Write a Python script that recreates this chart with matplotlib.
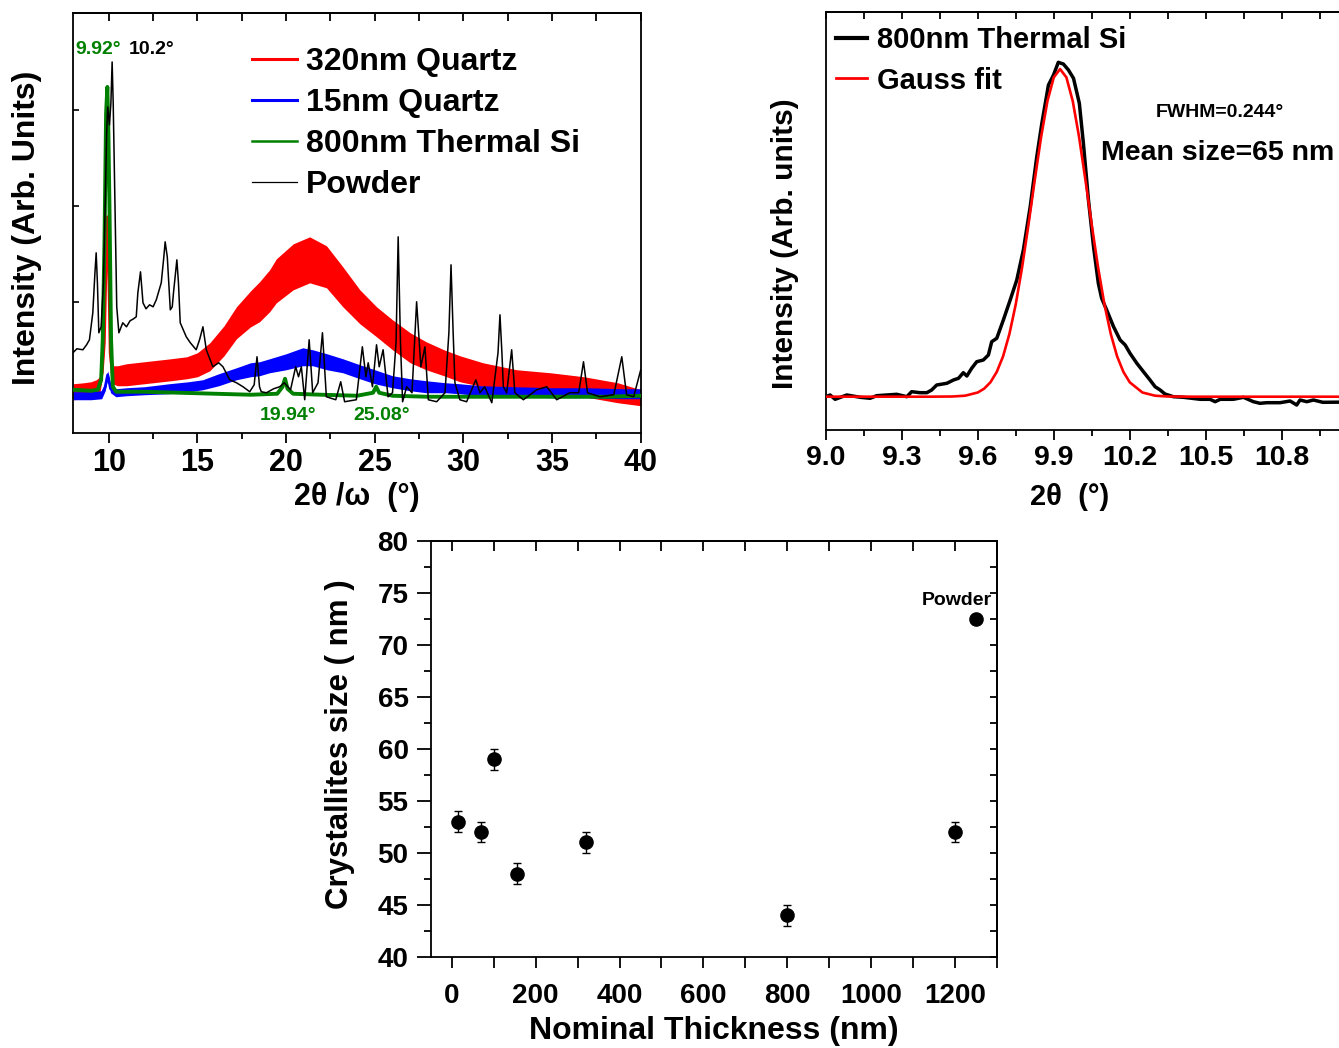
import matplotlib
matplotlib.use('Agg')
import matplotlib.pyplot as plt
from matplotlib.lines import Line2D
from matplotlib.ticker import MultipleLocator, NullFormatter, FormatStrFormatter

plt.rcParams['font.family'] = ['Liberation Sans', 'DejaVu Sans']
plt.rcParams['font.weight'] = 'bold'
plt.rcParams['axes.labelweight'] = 'bold'
plt.rcParams['axes.linewidth'] = 1.3

# ---------------- Panel 1: XRD patterns ----------------
red_2theta = [8.0, 8.6, 9.0, 9.3, 9.5, 9.63, 9.75, 9.85, 9.92, 10.0, 10.08, 10.2, 10.5, 11.0, 12.0,
              12.5, 13.5, 14.4, 15.0, 15.7, 16.5, 17.2, 18.0, 18.5, 19.07, 19.45, 20.4, 21.33,
              22.28, 23.2, 24.16, 25.1, 26.0, 27.0, 27.9, 28.9, 29.8, 31.1, 33.0, 34.9, 36.8,
              38.7, 40.0]
red_mid = [41, 42, 43, 45, 48, 60, 90, 170, 216, 160, 80, 58, 57, 58, 60,
           61, 63, 65, 68, 76, 92, 110, 124, 131, 142, 152, 166, 173,
           166, 146, 126, 111, 98, 85, 77, 70, 64, 58, 53, 50, 46,
           40, 35]
red_noise = [8, 8, 8, 8, 8, 6, 5, 4, 3, 4, 6, 9, 10, 11, 11,
             11, 11, 11, 12, 14, 15, 16, 18, 20, 21, 22, 23, 23,
             21, 20, 17, 15, 15, 15, 14, 13, 13, 12, 10, 10, 10,
             10, 8]

blue_2theta = [8.0, 9.0, 9.6, 9.8, 9.94, 10.1, 10.4, 11.0, 12.0, 13.4, 14.5, 15.3, 16.2, 17.2,
               18.0, 18.5, 19.07, 20.0, 20.94, 21.5, 22.3, 23.2, 24.16, 25.0, 26.0, 27.0,
               27.9, 29.0, 29.8, 31.0, 33.0, 35.0, 37.0, 39.0, 40.0]
blue_mid = [37, 37, 38, 46, 58, 44, 40, 41, 42, 44, 46, 48, 53, 59,
            63, 64, 67, 71, 76, 75, 71, 67, 61, 56, 51, 48,
            46, 45, 44, 42, 41, 40, 40, 39, 39]
blue_noise = [4, 4, 4, 4, 4, 4, 4, 4, 4, 5, 5, 5, 6, 6,
              7, 7, 7, 8, 9, 8, 8, 7, 7, 7, 6, 6,
              6, 5, 5, 5, 5, 5, 5, 5, 5]

green_2theta = [8.0, 9.0, 9.38, 9.57, 9.66, 9.76, 9.85, 9.92, 9.98, 10.04, 10.13, 10.23, 10.42,
                12.0, 14.0, 16.0, 18.0, 19.5, 19.8, 19.94, 20.08, 20.4, 22.0, 24.0, 24.9,
                25.08, 25.25, 26.0, 28.0, 30.0, 33.0, 36.0, 38.0, 40.0]
green_int = [43, 42, 43, 53, 93, 193, 320, 346, 300, 226, 93, 46, 41,
             41, 40, 39, 38, 39, 46, 54, 44, 39, 38, 37, 40,
             46, 40, 37, 36, 36, 36, 36, 36, 37]

powder_2theta = [7.98, 8.2, 8.54, 8.75, 8.91, 9.10, 9.22, 9.29, 9.36, 9.44, 9.57, 9.70, 9.80, 9.88,
                 9.94, 10.04, 10.12, 10.19, 10.25, 10.32, 10.45, 10.57, 10.79, 11.0, 11.2, 11.4,
                 11.55, 11.64, 11.79, 11.93, 12.1, 12.3, 12.5, 12.68, 12.96, 13.10, 13.18, 13.30,
                 13.47, 13.58, 13.65, 13.84, 13.93, 14.03, 14.37, 14.6, 14.93, 15.12, 15.31,
                 15.5, 15.87, 16.2, 16.44, 16.82, 17.2, 17.57, 17.95, 18.2, 18.36, 18.5, 18.6,
                 18.89, 19.3, 19.64, 19.9, 20.1, 20.25, 20.54, 20.7, 20.86, 21.05, 21.3, 21.5,
                 21.8, 22.05, 22.27, 22.8, 23.08, 23.3, 23.96, 24.3, 24.5, 24.63, 24.87, 25.1,
                 25.25, 25.47, 25.75, 26.0, 26.2, 26.32, 26.45, 26.57, 26.8, 27.1, 27.36, 27.6,
                 27.83, 28.02, 28.49, 28.96, 29.18, 29.3, 29.42, 29.52, 29.8, 30.18, 30.7, 30.93,
                 31.2, 31.6, 31.95, 32.06, 32.17, 32.25, 32.44, 32.72, 32.9, 33.38, 34.13, 34.7,
                 35.26, 36.0, 36.5, 36.77, 37.0, 37.7, 38.48, 38.93, 39.2, 39.6, 40.0]
powder_int = [80, 84, 83, 88, 93, 120, 160, 180, 150, 100, 106, 150, 230, 300,
              326, 308, 330, 371, 330, 260, 126, 100, 110, 106, 112, 114,
              116, 140, 161, 130, 124, 128, 126, 133, 150, 175, 191, 176,
              123, 126, 140, 173, 150, 110, 96, 90, 83, 93, 106,
              83, 66, 70, 66, 53, 50, 46, 41, 48, 76, 46, 41,
              40, 44, 46, 50, 46, 43, 66, 56, 66, 33, 93, 40,
              50, 100, 36, 33, 51, 31, 33, 86, 56, 70, 46, 88,
              66, 83, 36, 40, 90, 196, 90, 31, 46, 40, 131, 66,
              86, 33, 31, 40, 100, 168, 100, 50, 33, 31, 53, 40,
              46, 30, 80, 118, 80, 46, 40, 83, 40, 33, 43, 46,
              33, 40, 40, 71, 40, 36, 38, 76, 38, 36, 63]

legend1_labels = ['320nm Quartz', '15nm Quartz', '800nm Thermal Si', 'Powder']

# ---------------- Panel 2: Gauss fit ----------------
si_2theta = [9.000, 9.017, 9.037, 9.083, 9.136, 9.175, 9.201, 9.241, 9.280, 9.320, 9.339, 9.372,
             9.399, 9.418, 9.438, 9.478, 9.504, 9.524, 9.543, 9.557, 9.576, 9.596, 9.622, 9.642,
             9.655, 9.675, 9.701, 9.728, 9.754, 9.780, 9.807, 9.833, 9.853, 9.879, 9.899, 9.918,
             9.938, 9.958, 9.978, 10.001, 10.017, 10.037, 10.057, 10.076, 10.089, 10.109, 10.136,
             10.162, 10.182, 10.201, 10.228, 10.254, 10.280, 10.300, 10.320, 10.339, 10.372,
             10.412, 10.478, 10.517, 10.537, 10.557, 10.609, 10.649, 10.688, 10.714, 10.741,
             10.793, 10.833, 10.859, 10.872, 10.899, 10.925, 10.962, 11.1]
si_int = [33.3, 35, 30.7, 35, 32.7, 31.7, 34.3, 35, 35.7, 33.3, 38.3, 37.3,
          37.3, 40, 45, 46.7, 50, 51.7, 57.3, 54, 61.7, 68.3, 70, 75,
          88.3, 91.7, 110, 130, 150, 180, 223.3, 273.3, 306.7, 345, 355, 367.7,
          366, 360, 351.7, 326.7, 286.7, 230, 183.3, 146.7, 131.7, 120, 103.3,
          90, 85, 76.7, 66.7, 58.3, 50, 43.3, 40, 36, 33.3,
          32.7, 30.7, 30.7, 28.3, 30.7, 30.7, 32.7, 28.3, 26.7, 27.3,
          27.3, 29, 25, 30, 28.3, 30, 27.7, 28]
fit_2theta = [9.0, 9.4, 9.5, 9.55, 9.6, 9.625, 9.65, 9.675, 9.7, 9.725, 9.75, 9.775, 9.8, 9.825,
              9.85, 9.875, 9.9, 9.925, 9.95, 9.975, 10.0, 10.025, 10.05, 10.075, 10.1, 10.125,
              10.15, 10.175, 10.2, 10.25, 10.3, 10.35, 10.45, 11.1]
fit_int = [33.3, 33.3, 33.5, 34.3, 37.5, 41.3, 47.7, 58.1, 73.7, 96.1, 125.7, 162.6, 205.1, 250.1,
           293.0, 328.9, 352.6, 361.0, 352.6, 328.9, 293.0, 250.1, 205.1, 162.6, 125.7, 96.1,
           73.7, 58.1, 47.7, 37.5, 34.3, 33.5, 33.3, 33.3]
legend2_labels = ['800nm Thermal Si', 'Gauss fit']

# ---------------- Panel 3: crystallite size ----------------
thickness = [15, 70, 100, 155, 320, 800, 1200, 1250]
size_nm = [53, 52, 59, 48, 51, 44, 52, 72.5]
size_err = [1, 1, 1, 1, 1, 1, 1, 0]

fig = plt.figure(figsize=(13.39, 10.48), dpi=100)

# ===== Panel 1 =====
ax1 = fig.add_axes([0.05474, 0.5871, 0.4238, 0.4005])
lo = [m - n for m, n in zip(red_mid, red_noise)]
hi = [m + n for m, n in zip(red_mid, red_noise)]
ax1.fill_between(red_2theta, lo, hi, color='#ff0000', lw=0, zorder=1)
ax1.plot(red_2theta, red_mid, color='#ff0000', lw=2, zorder=1)
lo = [m - n for m, n in zip(blue_mid, blue_noise)]
hi = [m + n for m, n in zip(blue_mid, blue_noise)]
ax1.fill_between(blue_2theta, lo, hi, color='#0000ff', lw=0, zorder=2)
ax1.plot(blue_2theta, blue_mid, color='#0000ff', lw=2, zorder=2)
ax1.plot(green_2theta, green_int, color='#008000', lw=2.8, zorder=3)
ax1.plot(powder_2theta, powder_int, color='black', lw=1.1, zorder=4)
ax1.set_xlim(8, 40)
ax1.set_ylim(0, 420)
ax1.xaxis.set_major_locator(MultipleLocator(5))
ax1.xaxis.set_minor_locator(MultipleLocator(2.5))
ax1.tick_params(axis='x', which='major', direction='out', length=7, width=1.3, labelsize=22, pad=4)
ax1.tick_params(axis='x', which='minor', direction='out', length=4, width=1.3)
ax1.set_yticks([35, 131, 227, 323])
ax1.yaxis.set_major_formatter(NullFormatter())
ax1.tick_params(axis='y', direction='in', length=4, width=1.2)
sec = ax1.secondary_xaxis('top')
sec.xaxis.set_major_locator(MultipleLocator(2.5))
sec.tick_params(direction='in', length=6, width=1.3, labeltop=False)
ax1.set_xlabel('2θ /ω  (°)', fontsize=22)
ax1.xaxis.set_label_coords(0.5, -0.153)
ax1.xaxis.label.set_va('center')
ax1.set_ylabel('Intensity (Arb. Units)', fontsize=23)
ax1.yaxis.set_label_coords(-0.082, 0.489)
ax1.yaxis.label.set_va('center')
ax1.text(9.42, 383, '9.92°', color='#008000', fontsize=14, ha='center', va='center')
ax1.text(12.41, 383, '10.2°', color='black', fontsize=14, ha='center', va='center')
ax1.text(20.09, 17, '19.94°', color='#008000', fontsize=14, ha='center', va='center')
ax1.text(25.4, 17, '25.08°', color='#008000', fontsize=14, ha='center', va='center')
handles1 = [Line2D([], [], color='#ff0000', lw=2.2), Line2D([], [], color='#0000ff', lw=2.2),
            Line2D([], [], color='#008000', lw=1.8), Line2D([], [], color='black', lw=0.9)]
ax1.legend(handles1, legend1_labels, loc='upper left', bbox_to_anchor=(0.315, 0.918),
           frameon=False, fontsize=23, handlelength=1.4, handletextpad=0.3,
           labelspacing=0.34, borderpad=0, borderaxespad=0)

# ===== Panel 2 =====
ax2 = fig.add_axes([0.6167, 0.5897, 0.3973, 0.3991])
ax2.plot(si_2theta, si_int, color='black', lw=2.5, zorder=2)
ax2.plot(fit_2theta, fit_int, color='#ff0000', lw=1.9, zorder=3)
ax2.set_xlim(9.0, 11.1)
ax2.set_ylim(0, 418.3)
ax2.set_xticks([9.0, 9.3, 9.6, 9.9, 10.2, 10.5, 10.8])
ax2.xaxis.set_major_formatter(FormatStrFormatter('%.1f'))
ax2.xaxis.set_minor_locator(MultipleLocator(0.15))
ax2.tick_params(axis='x', which='major', direction='out', length=7, width=1.3, labelsize=20.5, pad=4)
ax2.tick_params(axis='x', which='minor', direction='out', length=4, width=1.3)
ax2.set_yticks([])
sec2 = ax2.secondary_xaxis('top')
sec2.xaxis.set_major_locator(MultipleLocator(0.15))
sec2.tick_params(direction='in', length=5, width=1.3, labeltop=False)
ax2.set_xlabel('2θ  (°)', fontsize=21)
ax2.xaxis.set_label_coords(0.459, -0.160)
ax2.xaxis.label.set_va('center')
ax2.set_ylabel('Intensity (Arb. units)', fontsize=21.5)
ax2.yaxis.set_label_coords(-0.0765, 0.446)
ax2.yaxis.label.set_va('center')
ax2.text(10.557, 318, 'FWHM=0.244°', fontsize=14, ha='center', va='center')
ax2.text(10.085, 277, 'Mean size=65 nm', fontsize=20.5, ha='left', va='center')
handles2 = [Line2D([], [], color='black', lw=3), Line2D([], [], color='#ff0000', lw=2)]
ax2.legend(handles2, legend2_labels, loc='upper left', bbox_to_anchor=(0.0194, 0.965),
           frameon=False, fontsize=21, handlelength=1.05, handletextpad=0.35,
           labelspacing=0.42, borderpad=0, borderaxespad=0)

# ===== Panel 3 =====
ax3 = fig.add_axes([0.3217, 0.0871, 0.4229, 0.3969])
ax3.errorbar(thickness, size_nm, yerr=size_err, fmt='o', color='black', ms=9.5,
             ecolor='black', elinewidth=1.0, capsize=3, capthick=1.0)
ax3.set_xlim(-50, 1300)
ax3.set_ylim(40, 80)
ax3.set_xticks([0, 200, 400, 600, 800, 1000, 1200])
ax3.xaxis.set_minor_locator(MultipleLocator(100))
ax3.yaxis.set_major_locator(MultipleLocator(5))
ax3.yaxis.set_minor_locator(MultipleLocator(2.5))
ax3.tick_params(axis='x', which='both', direction='out', length=8, width=1.3, labelsize=20, pad=11)
ax3.tick_params(axis='y', which='major', direction='out', length=10, width=1.3, labelsize=20, pad=6)
ax3.tick_params(axis='y', which='minor', direction='out', length=5, width=1.3)
sec3 = ax3.secondary_xaxis('top')
sec3.xaxis.set_major_locator(MultipleLocator(100))
sec3.tick_params(direction='in', length=7, width=1.3, labeltop=False)
sec4 = ax3.secondary_yaxis('right')
sec4.yaxis.set_major_locator(MultipleLocator(2.5))
sec4.tick_params(direction='in', length=5, width=1.3, labelright=False)
ax3.set_xlabel('Nominal Thickness (nm)', fontsize=23)
ax3.xaxis.set_label_coords(0.5, -0.1786)
ax3.xaxis.label.set_va('center')
ax3.set_ylabel('Crystallites size ( nm )', fontsize=22.5)
ax3.yaxis.set_label_coords(-0.160, 0.511)
ax3.yaxis.label.set_va('center')
ax3.text(1203, 74.3, 'Powder', fontsize=14, ha='center', va='center')

fig.savefig('out.png', dpi=100)
